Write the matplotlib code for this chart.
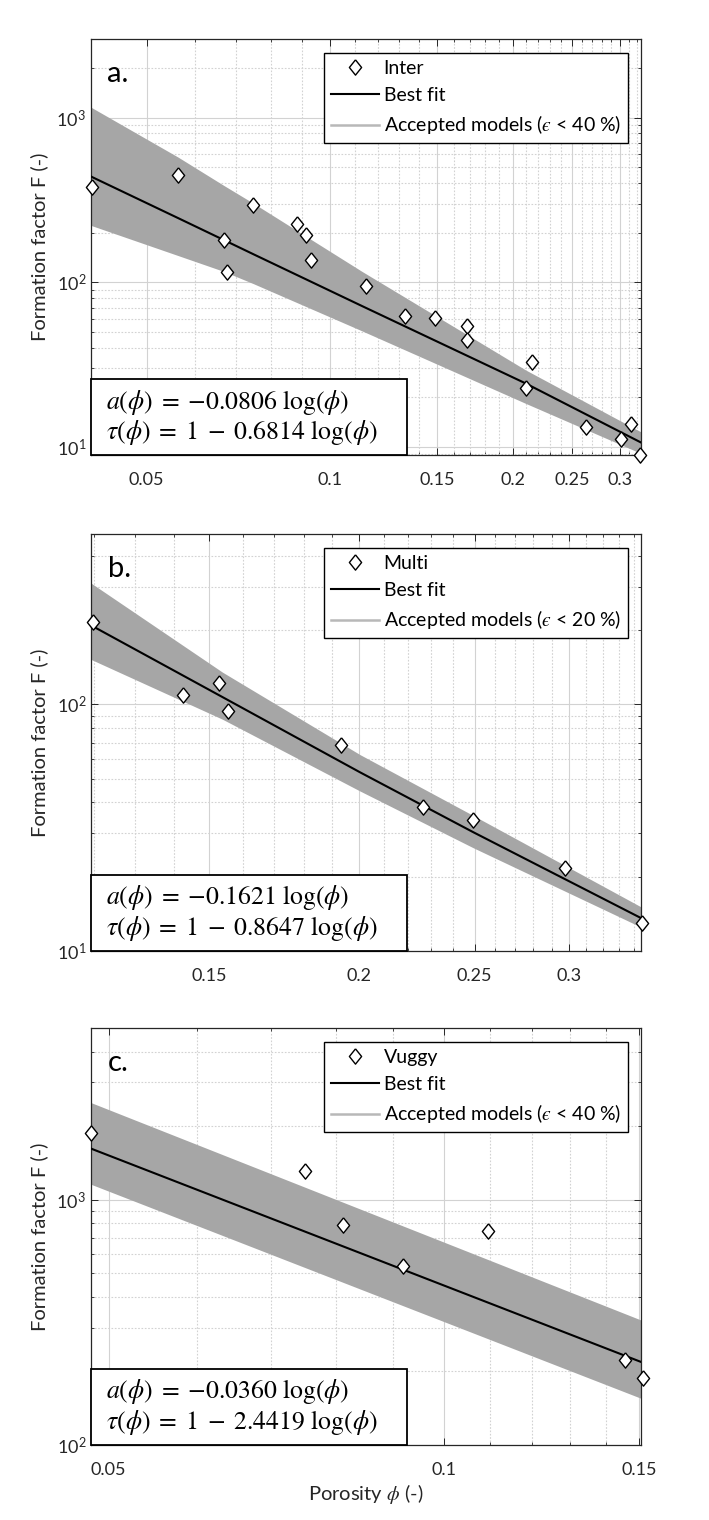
import numpy as np
import matplotlib
matplotlib.use("Agg")
import matplotlib.pyplot as plt
from matplotlib.lines import Line2D
from matplotlib.patches import Rectangle
from matplotlib.ticker import FixedLocator, FixedFormatter, LogLocator, NullFormatter

plt.rcParams['font.family'] = ['Lato', 'DejaVu Sans']
plt.rcParams['mathtext.fontset'] = 'stix'

# ---------------- data ----------------
# panel a (Inter)
phi_a = [0.0407, 0.0563, 0.0670, 0.0678, 0.0748, 0.0884, 0.0913, 0.0930, 0.1148,
         0.1328, 0.149, 0.168, 0.168, 0.2146, 0.210, 0.264, 0.313, 0.301, 0.323]
F_a = [378, 449, 180, 115.6, 292.5, 226.5, 193, 136, 94.6,
       62.2, 60.2, 54, 44.5, 32.8, 22.6, 13.2, 13.7, 11.1, 8.95]
band_phi_a = [0.0405, 0.0563, 0.0670, 0.0748, 0.1130, 0.2100, 0.3247]
band_up_a = [1155, 575, 386, 302, 116, 29.2, 12.3]
fit_a = [438, 245, 180, 148, 71.5, 24.2, 10.6]
band_lo_a = [221, 145, 116, 98, 50.5, 18.3, 9.1]

# panel b (Multi)
phi_b = [0.1199, 0.1426, 0.1528, 0.1555, 0.1934, 0.2265, 0.2494, 0.2973, 0.345]
F_b = [215, 109.5, 122, 93.9, 68.2, 38.4, 33.9, 21.6, 12.95]
band_phi_b = [0.1194, 0.1538, 0.2005, 0.2494, 0.3445]
band_up_b = [310, 135, 62.5, 35.4, 15.1]
fit_b = [209, 107, 53, 30.3, 13.6]
band_lo_b = [152, 87, 44.5, 26.2, 12.5]

# panel c (Vuggy)
phi_c = [0.0482, 0.0750, 0.0812, 0.0920, 0.1097, 0.1457, 0.151]
F_c = [1868, 1304, 786, 537, 746, 223, 188]
band_phi_c = [0.0482, 0.1505]
band_up_c = [2483, 323]
fit_c = [1613, 218]
band_lo_c = [1154, 155]

names = ['Inter', 'Multi', 'Vuggy']
panel_labels = ['a.', 'b.', 'c.']
eps_limits = ['40', '20', '40']
eq_a = [r'$a(\phi)\;=\;{-}0.0806\ \log(\phi)$', r'$a(\phi)\;=\;{-}0.1621\ \log(\phi)$',
        r'$a(\phi)\;=\;{-}0.0360\ \log(\phi)$']
eq_tau = [r'$\tau(\phi)\;=\;1\;-\;0.6814\ \log(\phi)$', r'$\tau(\phi)\;=\;1\;-\;0.8647\ \log(\phi)$',
          r'$\tau(\phi)\;=\;1\;-\;2.4419\ \log(\phi)$']
xticks = [[0.05, 0.1, 0.15, 0.2, 0.25, 0.3], [0.15, 0.2, 0.25, 0.3], [0.05, 0.1, 0.15]]
xticklabels = [['0.05', '0.1', '0.15', '0.2', '0.25', '0.3'], ['0.15', '0.2', '0.25', '0.3'],
               ['0.05', '0.1', '0.15']]
yticks = [[10, 100, 1000], [10, 100], [100, 1000]]
yticklabels = [[r'$\mathregular{10^1}$', r'$\mathregular{10^2}$', r'$\mathregular{10^3}$'],
               [r'$\mathregular{10^1}$', r'$\mathregular{10^2}$'],
               [r'$\mathregular{10^2}$', r'$\mathregular{10^3}$']]
xlims = [(0.0405, 0.3247), (0.1194, 0.3445), (0.0482, 0.1505)]
ylims = [(8.9, 3000), (10, 490), (100, 5000)]

phis = [phi_a, phi_b, phi_c]
Fs = [F_a, F_b, F_c]
bphis = [band_phi_a, band_phi_b, band_phi_c]
bups = [band_up_a, band_up_b, band_up_c]
fits = [fit_a, fit_b, fit_c]
blos = [band_lo_a, band_lo_b, band_lo_c]

# ---------------- figure ----------------
W, H = 709, 1520
fig = plt.figure(figsize=(W / 100, H / 100), dpi=100)
boxes = [(39, 455), (534, 951), (1028, 1445)]
left_px, right_px = 91, 641

diamond = [(0, 1), (0.8, 0), (0, -1), (-0.8, 0), (0, 1)]
band_col = '#a6a6a6'
grid_col = '#d2d2d2'

for i in range(3):
    top, bot = boxes[i]
    ax = fig.add_axes([left_px / W, 1 - bot / H, (right_px - left_px) / W, (bot - top) / H])
    ax.set_xscale('log')
    ax.set_yscale('log')

    ax.fill_between(bphis[i], blos[i], bups[i], color=band_col, lw=0, zorder=2)
    ax.plot(bphis[i], fits[i], color='black', lw=1.5, zorder=3)
    ax.plot(phis[i], Fs[i], ls='none', marker=diamond, ms=11, mfc='white', mec='black',
            mew=1.0, zorder=6, clip_on=False)

    ax.set_xlim(*xlims[i])
    ax.set_ylim(*ylims[i])

    ax.xaxis.set_major_locator(FixedLocator(xticks[i]))
    ax.xaxis.set_major_formatter(FixedFormatter(xticklabels[i]))
    ax.xaxis.set_minor_locator(FixedLocator(list(np.arange(0.04, 0.36, 0.01))))
    ax.xaxis.set_minor_formatter(NullFormatter())
    ax.yaxis.set_major_locator(FixedLocator(yticks[i]))
    ax.yaxis.set_major_formatter(FixedFormatter(yticklabels[i]))
    ax.yaxis.set_minor_locator(LogLocator(base=10, subs=np.arange(2, 10)))
    ax.yaxis.set_minor_formatter(NullFormatter())

    ax.grid(True, which='major', color=grid_col, lw=0.8, ls='-', zorder=0)
    ax.grid(True, which='minor', color=grid_col, lw=0.8, ls=(0, (1.5, 1.5)), zorder=0)
    ax.set_axisbelow(True)
    ax.tick_params(which='both', direction='in', top=True, right=True, colors='#262626',
                   labelcolor='#262626', labelsize=13)
    ax.tick_params(which='major', length=5, width=0.7)
    ax.tick_params(which='minor', length=2.5, width=0.6)
    ax.tick_params(axis='x', pad=12)
    for s in ax.spines.values():
        s.set_color('#262626')
        s.set_linewidth(0.9)

    ax.set_ylabel('Formation factor F (-)', fontsize=14.5, color='#262626', labelpad=6)
    if i == 2:
        ax.set_xlabel(r'Porosity $\phi$ (-)', fontsize=14.5, color='#262626', labelpad=3)

    # panel label
    ax.text(0.03, 0.915, panel_labels[i], transform=ax.transAxes, fontsize=21,
            va='center', ha='left', zorder=7)

    # legend
    h1 = Line2D([], [], ls='none', marker=diamond, ms=11, mfc='white', mec='black', mew=1.0)
    h2 = Line2D([], [], color='black', lw=1.5)
    h3 = Line2D([], [], color='#b8b8b8', lw=1.8)
    leg = ax.legend([h1, h2, h3],
                    [names[i], 'Best fit', 'Accepted models ($\u03f5$ < ' + eps_limits[i] + ' %)'],
                    loc='upper right', bbox_to_anchor=(0.976, 0.966), borderaxespad=0,
                    frameon=True, fancybox=False, edgecolor='black', framealpha=1,
                    fontsize=14, handlelength=2.45, handletextpad=0.25, borderpad=0.35,
                    labelspacing=0.5)
    leg.get_frame().set_linewidth(1.0)
    leg.set_zorder(8)

    # equation box
    bh = 0.182
    ax.add_patch(Rectangle((0, 0), 0.574, bh, transform=ax.transAxes, facecolor='white',
                           edgecolor='black', lw=1.3, zorder=7, clip_on=False))
    ax.text(0.027, bh * 0.70, eq_a[i], transform=ax.transAxes, fontsize=18.5,
            va='center', ha='left', zorder=8)
    ax.text(0.027, bh * 0.30, eq_tau[i], transform=ax.transAxes, fontsize=18.5,
            va='center', ha='left', zorder=8)

fig.savefig('out.png', dpi=100)
